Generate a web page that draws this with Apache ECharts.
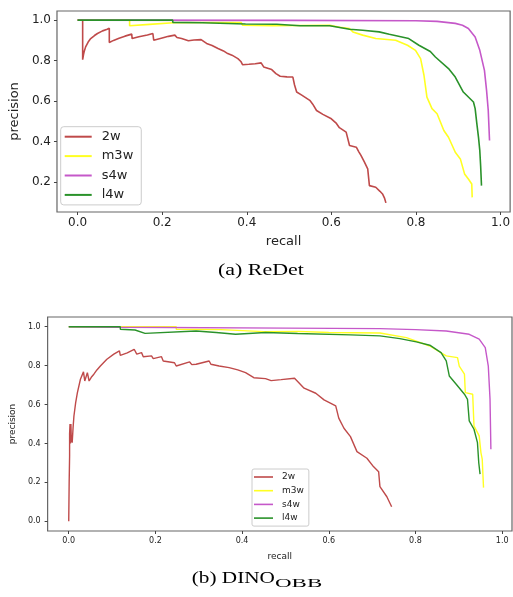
<!DOCTYPE html>
<html>
<head>
<meta charset="utf-8">
<script src="https://cdn.jsdelivr.net/npm/echarts@6/dist/echarts.min.js"></script>
<style>html,body{margin:0;padding:0;background:#fff}#c{width:513px;height:597px}</style>
</head>
<body>
<div id="c"></div>
<script>
// ---- data ----
const seriesNames = ['2w', 'm3w', 's4w', 'l4w'];
const recallTicks = [0, 0.2, 0.4, 0.6, 0.8, 1.0];
const precTicksA = [0.2, 0.4, 0.6, 0.8, 1.0];
const precTicksB = [0, 0.2, 0.4, 0.6, 0.8, 1.0];
const captionA = '(a) ReDet';
const captionB = '(b) DINO';
const captionBSub = 'OBB';

// (a) ReDet  [recall, precision]
const redet2w = [[0,1.0],[0.012,1.0],[0.012,0.805],[0.014,0.83],[0.016,0.848],[0.019,0.868],[0.025,0.892],[0.031,0.909],[0.04,0.924],[0.047,0.934],[0.059,0.947],[0.070,0.955],[0.075,0.96],[0.075,0.89],[0.085,0.9],[0.098,0.911],[0.112,0.921],[0.128,0.931],[0.129,0.909],[0.145,0.918],[0.165,0.927],[0.178,0.934],[0.18,0.901],[0.2,0.912],[0.215,0.92],[0.23,0.926],[0.235,0.914],[0.246,0.909],[0.262,0.898],[0.275,0.902],[0.292,0.904],[0.305,0.885],[0.318,0.875],[0.332,0.86],[0.345,0.848],[0.355,0.835],[0.365,0.827],[0.379,0.81],[0.386,0.796],[0.39,0.78],[0.405,0.782],[0.42,0.785],[0.434,0.789],[0.44,0.769],[0.459,0.756],[0.469,0.736],[0.479,0.723],[0.495,0.72],[0.509,0.719],[0.513,0.68],[0.518,0.645],[0.53,0.63],[0.549,0.604],[0.556,0.585],[0.565,0.554],[0.58,0.535],[0.6,0.513],[0.612,0.49],[0.619,0.469],[0.635,0.447],[0.643,0.381],[0.659,0.373],[0.665,0.35],[0.67,0.332],[0.678,0.3],[0.686,0.266],[0.69,0.183],[0.705,0.175],[0.715,0.155],[0.721,0.142],[0.726,0.12],[0.729,0.098]];
const redetM3w = [[0,1.0],[0.123,1.0],[0.123,0.972],[0.17,0.979],[0.226,0.987],[0.3,0.988],[0.387,0.988],[0.39,0.975],[0.461,0.972],[0.596,0.975],[0.62,0.965],[0.643,0.959],[0.651,0.942],[0.674,0.926],[0.705,0.909],[0.752,0.901],[0.78,0.876],[0.799,0.851],[0.811,0.81],[0.819,0.728],[0.826,0.62],[0.838,0.563],[0.85,0.538],[0.866,0.455],[0.877,0.422],[0.893,0.348],[0.905,0.315],[0.915,0.241],[0.924,0.216],[0.932,0.191],[0.933,0.125]];
const redetS4w = [[0,1.0],[0.5,0.999],[0.8,0.997],[0.85,0.994],[0.893,0.984],[0.91,0.975],[0.924,0.959],[0.94,0.917],[0.951,0.851],[0.962,0.752],[0.967,0.653],[0.971,0.554],[0.974,0.406]];
const redetL4w = [[0,1.0],[0.225,1.0],[0.225,0.989],[0.295,0.987],[0.296,0.984],[0.397,0.981],[0.398,0.977],[0.471,0.98],[0.526,0.972],[0.596,0.972],[0.643,0.955],[0.674,0.95],[0.713,0.942],[0.737,0.93],[0.783,0.909],[0.807,0.876],[0.834,0.845],[0.846,0.818],[0.877,0.761],[0.893,0.719],[0.912,0.645],[0.936,0.596],[0.94,0.563],[0.944,0.489],[0.948,0.42],[0.951,0.356],[0.953,0.28],[0.955,0.183]];

// (b) DINO_OBB  [recall, precision]
const dino2w = [[0,0],[0.001,0.2],[0.002,0.336],[0.002,0.45],[0.003,0.5],[0.004,0.4],[0.005,0.5],[0.006,0.42],[0.008,0.404],[0.010,0.48],[0.012,0.541],[0.016,0.61],[0.02,0.661],[0.027,0.73],[0.034,0.768],[0.037,0.721],[0.043,0.764],[0.047,0.721],[0.052,0.74],[0.058,0.756],[0.065,0.778],[0.073,0.798],[0.088,0.833],[0.104,0.859],[0.117,0.876],[0.119,0.853],[0.135,0.866],[0.151,0.884],[0.157,0.859],[0.168,0.867],[0.172,0.846],[0.191,0.85],[0.195,0.836],[0.214,0.846],[0.218,0.824],[0.244,0.815],[0.248,0.798],[0.279,0.819],[0.284,0.805],[0.294,0.807],[0.324,0.824],[0.328,0.807],[0.347,0.798],[0.37,0.79],[0.39,0.778],[0.408,0.764],[0.427,0.738],[0.454,0.733],[0.467,0.723],[0.49,0.728],[0.521,0.735],[0.543,0.684],[0.57,0.658],[0.589,0.624],[0.616,0.593],[0.623,0.53],[0.635,0.478],[0.65,0.435],[0.665,0.358],[0.688,0.324],[0.703,0.281],[0.715,0.255],[0.718,0.178],[0.734,0.126],[0.745,0.075]];
const dinoM3w = [[0,1.0],[0.248,1.0],[0.248,0.987],[0.351,0.985],[0.351,0.978],[0.45,0.975],[0.53,0.976],[0.6,0.97],[0.718,0.968],[0.779,0.944],[0.833,0.901],[0.871,0.85],[0.897,0.841],[0.901,0.798],[0.913,0.756],[0.915,0.661],[0.932,0.653],[0.935,0.49],[0.947,0.439],[0.951,0.353],[0.954,0.319],[0.957,0.173]];
const dinoS4w = [[0,1.0],[0.119,0.997],[0.119,0.994],[0.5,0.993],[0.718,0.99],[0.8,0.985],[0.871,0.978],[0.924,0.961],[0.947,0.936],[0.961,0.893],[0.968,0.798],[0.972,0.627],[0.974,0.37]];
const dinoL4w = [[0,1.0],[0.119,1.0],[0.119,0.987],[0.153,0.983],[0.153,0.973],[0.176,0.966],[0.294,0.978],[0.295,0.97],[0.34,0.97],[0.385,0.961],[0.454,0.97],[0.528,0.965],[0.65,0.958],[0.718,0.953],[0.764,0.939],[0.802,0.922],[0.833,0.905],[0.859,0.867],[0.871,0.824],[0.878,0.747],[0.894,0.704],[0.913,0.653],[0.92,0.627],[0.924,0.516],[0.935,0.473],[0.943,0.404],[0.946,0.301],[0.949,0.242]];

// ---- styling ----
const colors = ['#bf4a4a', '#ffff22', '#c558c9', '#2a922a'];
const FONT = 'DejaVu Sans';
const SERIF = 'Liberation Serif';
const fmt = v => v.toFixed(1);

function xAxis(gridIndex, fs, gap, margin) {
  return {
    type: 'value', gridIndex, min: -0.0487, max: 1.0227,
    name: 'recall', nameLocation: 'middle', nameGap: gap,
    nameTextStyle: { fontFamily: FONT, fontSize: fs + 1, color: '#222' },
    axisLine: { show: false, onZero: false },
    axisTick: { show: true, length: 3, customValues: recallTicks, lineStyle: { color: '#444' } },
    axisLabel: { customValues: recallTicks, formatter: fmt, fontFamily: FONT, fontSize: fs, color: '#222', margin },
    splitLine: { show: false }
  };
}
function yAxis(gridIndex, ticks, min, max, fs, gap, margin) {
  return {
    type: 'value', gridIndex, min, max,
    name: 'precision', nameLocation: 'middle', nameGap: gap,
    nameTextStyle: { fontFamily: FONT, fontSize: fs + 1, color: '#222' },
    axisLine: { show: false, onZero: false },
    axisTick: { show: true, length: 3, customValues: ticks, lineStyle: { color: '#444' } },
    axisLabel: { customValues: ticks, formatter: fmt, fontFamily: FONT, fontSize: fs, color: '#222', margin },
    splitLine: { show: false }
  };
}
function lineSeries(name, data, idx, width, color) {
  return {
    type: 'line', name, data, xAxisIndex: idx, yAxisIndex: idx,
    symbol: 'none', animation: false,
    lineStyle: { width, color }, itemStyle: { color }
  };
}

const groupsA = [redet2w, redetM3w, redetS4w, redetL4w];
const groupsB = [dino2w, dinoM3w, dinoS4w, dinoL4w];
const series = [];
groupsA.forEach((d, i) => series.push(lineSeries(seriesNames[i], d, 0, 1.6, colors[i])));
groupsB.forEach((d, i) => series.push(lineSeries(seriesNames[i], d, 1, 1.4, colors[i])));

const option = {
  backgroundColor: '#fff',
  animation: false,
  grid: [
    { left: 54, top: 11, right: 2, bottom: 385, show: true, borderColor: '#666', borderWidth: 1.2, backgroundColor: 'transparent' },
    { left: 44, top: 317, right: 1, bottom: 66, show: true, borderColor: '#666', borderWidth: 1.2, backgroundColor: 'transparent' }
  ],
  xAxis: [xAxis(0, 12, 23, 5), xAxis(1, 8, 21, 6)],
  yAxis: [yAxis(0, precTicksA, 0.0529, 1.0451, 12, 27, 6), yAxis(1, precTicksB, -0.05, 1.05, 8, 21, 7)],
  legend: [
    {
      orient: 'vertical', left: 60.7, top: 126.7, data: seriesNames,
      icon: 'rect', itemWidth: 27, itemHeight: 2, itemGap: 5.4,
      padding: [3, 8, 3, 4], borderColor: '#ccc', borderWidth: 1, borderRadius: 3,
      backgroundColor: '#fff',
      textStyle: { fontFamily: FONT, fontSize: 13, lineHeight: 14, color: '#222', padding: [0, 0, 0, 5] },
      selectedMode: false
    },
    {
      orient: 'vertical', left: 252, top: 469, data: seriesNames,
      icon: 'rect', itemWidth: 19, itemHeight: 1.6, itemGap: 3.7,
      padding: [3, 5, 3, 2], borderColor: '#ccc', borderWidth: 1, borderRadius: 2,
      backgroundColor: '#fff',
      textStyle: { fontFamily: FONT, fontSize: 9, lineHeight: 10, color: '#222', padding: [0, 0, 0, 4] },
      selectedMode: false
    }
  ],
  graphic: [
    { type: 'text', x: 218, y: 271, scaleX: 1.29, silent: true,
      style: { text: captionA, fontFamily: SERIF, fontSize: 17, fill: '#000', align: 'left', verticalAlign: 'middle' } },
    { type: 'text', x: 191.7, y: 579, scaleX: 1.25, silent: true,
      style: { text: captionB, fontFamily: SERIF, fontSize: 17, fill: '#000', align: 'left', verticalAlign: 'middle' } },
    { type: 'text', x: 275, y: 583, scaleX: 1.7, silent: true,
      style: { text: captionBSub, fontFamily: SERIF, fontSize: 13.5, fill: '#000', align: 'left', verticalAlign: 'middle' } }
  ],
  series
};

const chart = echarts.init(document.getElementById('c'), null, { renderer: 'canvas' });
chart.setOption(option);
</script>
</body>
</html>
